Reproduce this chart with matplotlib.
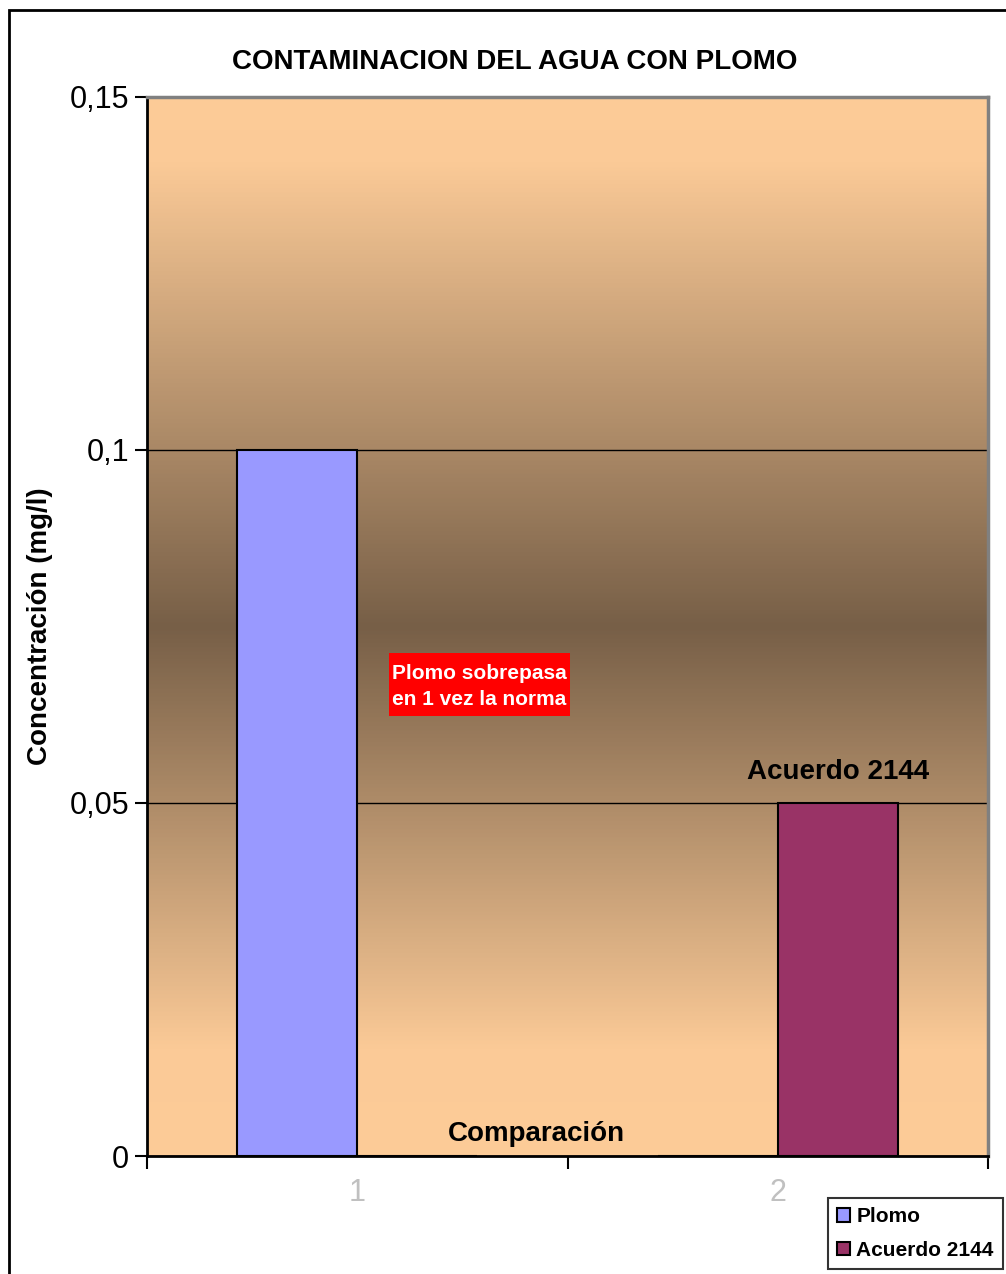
import numpy as np
import matplotlib.pyplot as plt
from matplotlib.colors import LinearSegmentedColormap
from matplotlib.patches import Rectangle

plt.rcParams['font.family'] = ['Liberation Sans', 'DejaVu Sans']

# datos
categorias = ['1', '2']
series = ['Plomo', 'Acuerdo 2144']
plomo = [0.1, 0.0]
acuerdo = [0.0, 0.05]
colores = ['#9999FF', '#993366']

fig = plt.figure(figsize=(10.06, 12.74), dpi=100)
ax = fig.add_axes([147/1006, 1-1156/1274, (988-147)/1006, (1156-97)/1274])

# fondo degradado (claro arriba y abajo, oscuro al centro)
fondo = LinearSegmentedColormap.from_list('fondo', [
    (0.0, '#FDCC98'), (0.06, '#FBCA97'), (0.5, '#775F47'),
    (0.9, '#FBCA97'), (1.0, '#FDCC98')])
grad = np.linspace(0, 1, 512).reshape(-1, 1)
ax.imshow(grad, cmap=fondo, aspect='auto', extent=[0.5, 2.5, 0, 0.15],
          origin='upper', zorder=0)

x = np.arange(1, len(categorias) + 1)
w = 120 / 420
ax.bar(x - w/2, plomo, w, color=colores[0], edgecolor='black', linewidth=1.5,
       label=series[0], zorder=3)
ax.bar(x + w/2, acuerdo, w, color=colores[1], edgecolor='black', linewidth=1.5,
       label=series[1], zorder=3)

ax.set_xlim(0.5, 2.5)
ax.set_ylim(0, 0.15)
ax.set_yticks([0, 0.05, 0.1, 0.15])
ax.set_yticklabels(['0', '0,05', '0,1', '0,15'], fontsize=22)
ax.yaxis.grid(True, color='black', linewidth=1, zorder=1)
ax.set_axisbelow(True)

# marcas entre categorias, etiquetas centradas
ax.set_xticks([0.5, 1.5, 2.5])
ax.set_xticklabels([])
ax.set_xticks(x, minor=True)
ax.set_xticklabels(categorias, minor=True, fontsize=22, color='#C0C0C0')
ax.tick_params(axis='x', which='minor', length=0, pad=16)
ax.tick_params(axis='both', which='major', length=9, width=1.5, direction='out')
ax.tick_params(axis='y', pad=4)

for s in ['left', 'bottom']:
    ax.spines[s].set_linewidth(2)
    ax.spines[s].set_color('black')
for s in ['top', 'right']:
    ax.spines[s].set_linewidth(2.5)
    ax.spines[s].set_color('#808080')

ax.set_ylabel('Concentración (mg/l)', fontsize=20, fontweight='bold', labelpad=12)
fig.text(0.5115, 1-62/1274, 'CONTAMINACION DEL AGUA CON PLOMO', ha='center',
         va='center', fontsize=20, fontweight='bold')
ax.text(1.426, 0.0031, 'Comparación', ha='center', va='center', fontsize=20,
        fontweight='bold', zorder=4)
ax.annotate(series[1], (2 + w/2, acuerdo[1]), xytext=(0, 22),
            textcoords='offset points', ha='center', va='center', fontsize=20,
            fontweight='bold', zorder=4)

# cuadro rojo de la nota
ax.add_patch(Rectangle((1.076, 0.06232), 0.429, 0.00893, facecolor='#FF0000',
                       edgecolor='none', zorder=4))
ax.text(1.290, 0.0665, 'Plomo sobrepasa\nen 1 vez la norma', ha='center',
        va='center', fontsize=15, fontweight='bold', color='white',
        linespacing=1.45, zorder=5)

leg = fig.legend(loc='upper left', bbox_to_anchor=(828/1006, 1-1198/1274),
                 prop={'weight': 'bold', 'size': 15},
                 frameon=True, fancybox=False, edgecolor='black',
                 handlelength=0.6, handleheight=0.6, handletextpad=0.3,
                 borderpad=0.45, labelspacing=0.7, borderaxespad=0)
leg.get_frame().set_linewidth(1.5)

# marco exterior del grafico
fig.patches.append(Rectangle((9/1006, -0.05), 1.1, 1-10/1274 + 0.05,
                             transform=fig.transFigure, fill=False,
                             edgecolor='black', linewidth=2))

fig.savefig('out.png', dpi=100)
